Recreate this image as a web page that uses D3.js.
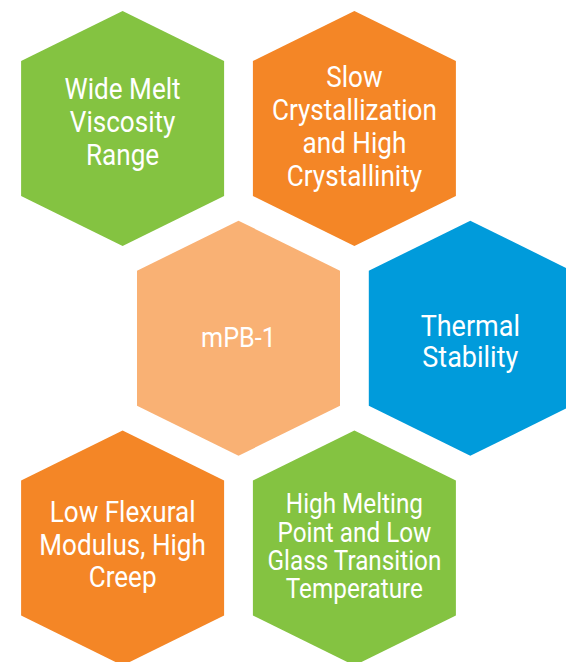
<!DOCTYPE html>
<html>
<head>
<meta charset="utf-8">
<script src="https://cdn.jsdelivr.net/npm/d3@7"></script>
<style>
  html, body { margin: 0; padding: 0; background: #ffffff; }
  svg { display: block; }
</style>
</head>
<body>
<div id="chart"></div>
<script>
// ---- data ----
const categories = [
  "Wide Melt Viscosity Range",
  "Slow Crystallization and High Crystallinity",
  "mPB-1",
  "Thermal Stability",
  "Low Flexural Modulus, High Creep",
  "High Melting Point and Low Glass Transition Temperature"
];
const labelLines = [
  ["Wide Melt", "Viscosity", "Range"],
  ["Slow", "Crystallization", "and High", "Crystallinity"],
  ["mPB-1"],
  ["Thermal", "Stability"],
  ["Low Flexural", "Modulus, High", "Creep"],
  ["High Melting", "Point and Low", "Glass Transition", "Temperature"]
];
const gridCol = [0, 1, 0.5, 1.5, 0, 1];
const gridRow = [0, 0, 1, 1, 2, 2];
const fillColors = ["#84c341", "#f48626", "#f9b174", "#009bdb", "#f48626", "#84c341"];

// ---- layout / style ----
const W = 566, H = 662;
const fontSizes = [29, 29, 28, 30, 29, 27];
const lineHeights = [33.3, 33.1, 30, 31, 32.5, 28.2];
const textDy = [-7, -2, -1, 2.5, -3.8, -1.9];
const textScaleX = 0.9;
const hexHalfW = 101.5, hexHalfH = 117.5, hexHalfSide = 67.5;

const x = d3.scaleLinear().domain([0, 1]).range([122.6, 354.4]);
const y = d3.scaleLinear().domain([0, 2]).range([128.5, 548]);

const nodes = categories.map((c, i) => ({
  name: c, lines: labelLines[i], col: gridCol[i], row: gridRow[i],
  color: fillColors[i], fs: fontSizes[i], lh: lineHeights[i], dy: textDy[i]
}));

const svg = d3.select("#chart").append("svg")
  .attr("width", W).attr("height", H)
  .attr("viewBox", `0 0 ${W} ${H}`);

svg.append("rect").attr("width", W).attr("height", H).attr("fill", "#ffffff");

const hexPts = [
  [0, -hexHalfH], [hexHalfW, -hexHalfSide], [hexHalfW, hexHalfSide],
  [0, hexHalfH], [-hexHalfW, hexHalfSide], [-hexHalfW, -hexHalfSide]
];
const line = d3.line().curve(d3.curveLinearClosed);

const g = svg.selectAll("g.hex").data(nodes).join("g")
  .attr("class", "hex")
  .attr("transform", d => `translate(${x(d.col)},${y(d.row)})`);

g.append("path")
  .attr("d", line(hexPts))
  .attr("fill", d => d.color);

const txt = g.append("text")
  .attr("transform", `scale(${textScaleX},1)`)
  .attr("text-anchor", "middle")
  .attr("fill", "#ffffff")
  .attr("font-family", "Roboto, 'Open Sans', sans-serif")
  .attr("font-size", d => d.fs)
  .attr("font-weight", 400);

txt.selectAll("tspan").data(d => d.lines.map((t, i) => ({
  t, i, n: d.lines.length, fs: d.fs, lh: d.lh, dy: d.dy
}))).join("tspan")
  .attr("x", 0)
  .attr("y", d => (d.i - (d.n - 1) / 2) * d.lh + 0.711 * d.fs / 2 + d.dy)
  .text(d => d.t);
</script>
</body>
</html>
